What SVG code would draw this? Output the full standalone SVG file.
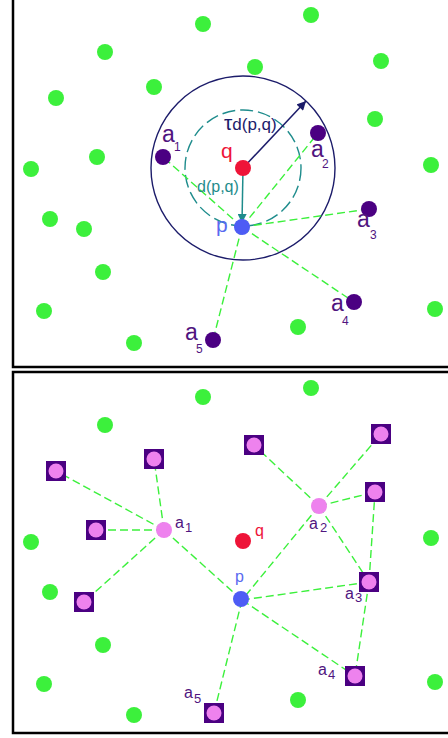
<svg xmlns="http://www.w3.org/2000/svg" width="448" height="738" viewBox="0 0 448 738">
<defs>
<style>
.frame{fill:none;stroke:#000;stroke-width:2.5}
.g{fill:#3CF03C}
.pu{fill:#4B0082}
.pk{fill:#EE82EE}
.q{fill:#EE1438}
.p{fill:#4D5CF5}
.ln{stroke:#3CF03C;stroke-width:1.4;stroke-dasharray:8 4;fill:none}
.t{font-family:"Liberation Sans",Arial,sans-serif}
.la{fill:#50157F}
</style>
<marker id="ahT" viewBox="0 0 10 10" refX="10" refY="5" markerWidth="10" markerHeight="9" markerUnits="userSpaceOnUse" orient="auto"><path d="M0,0 L10,5 L0,10 z" fill="#1E8C8C"/></marker>
<marker id="ahN" viewBox="0 0 10 10" refX="10" refY="5" markerWidth="10" markerHeight="9" markerUnits="userSpaceOnUse" orient="auto"><path d="M0,0 L10,5 L0,10 z" fill="#1C1C6A"/></marker>
</defs>
<rect width="448" height="738" fill="#fff"/>
<!-- frames -->
<path class="frame" d="M13,0 V367 H460"/>
<rect class="frame" x="13" y="372" width="460" height="361"/>

<!-- TOP PANEL -->
<g id="top-circles">
<circle cx="243" cy="168" r="92" fill="none" stroke="#1C1C6A" stroke-width="1.4"/>
<circle cx="243" cy="168" r="58" fill="none" stroke="#1E8C8C" stroke-width="1.4" stroke-dasharray="13 5"/>
</g>
<g id="top-connectors">
<line class="ln" x1="242" y1="227" x2="163" y2="157"/>
<line class="ln" x1="242" y1="227" x2="318" y2="133"/>
<line class="ln" x1="242" y1="227" x2="369" y2="209"/>
<line class="ln" x1="242" y1="227" x2="354" y2="302"/>
<line class="ln" x1="242" y1="227" x2="213" y2="340"/>
<line x1="243" y1="168" x2="242" y2="223" stroke="#1E8C8C" stroke-width="1.5" marker-end="url(#ahT)"/>
<line x1="243" y1="168" x2="306" y2="101" stroke="#1C1C6A" stroke-width="1.5" marker-end="url(#ahN)"/>
</g>
<g id="top-green">
<circle class="g" cx="203" cy="24" r="8"/><circle class="g" cx="311" cy="15" r="8"/>
<circle class="g" cx="105" cy="52" r="8"/><circle class="g" cx="255" cy="67" r="8"/>
<circle class="g" cx="381" cy="61" r="8"/><circle class="g" cx="56" cy="98" r="8"/>
<circle class="g" cx="154" cy="87" r="8"/><circle class="g" cx="375" cy="119" r="8"/>
<circle class="g" cx="97" cy="157" r="8"/><circle class="g" cx="31" cy="169" r="8"/>
<circle class="g" cx="431" cy="165" r="8"/><circle class="g" cx="50" cy="219" r="8"/>
<circle class="g" cx="84" cy="229" r="8"/><circle class="g" cx="103" cy="272" r="8"/>
<circle class="g" cx="44" cy="311" r="8"/><circle class="g" cx="435" cy="309" r="8"/>
<circle class="g" cx="298" cy="327" r="8"/><circle class="g" cx="134" cy="343" r="8"/>
</g>
<g id="top-q"><circle class="q" cx="243" cy="168" r="8"/><text class="t" x="221" y="158" font-size="21" fill="#EE1438">q</text></g>
<g id="top-p"><circle class="p" cx="242" cy="227" r="8"/><text class="t" x="216" y="232" font-size="21" fill="#5A6AF0">p</text></g>
<text class="t" x="224" y="130" font-size="17" fill="#1C1C6A"><tspan font-size="21">τ</tspan>d(p,q)</text>
<text class="t" x="197" y="192" font-size="16" fill="#1E8C8C">d(p,q)</text>
<g id="top-a1"><circle class="pu" cx="163" cy="157" r="8"/><text class="t la" x="162" y="142" font-size="23">a</text><text class="t la" x="174" y="151" font-size="12">1</text></g>
<g id="top-a2"><circle class="pu" cx="318" cy="133" r="8"/><text class="t la" x="311" y="157" font-size="23">a</text><text class="t la" x="322" y="168" font-size="12">2</text></g>
<g id="top-a3"><circle class="pu" cx="369" cy="209" r="8"/><text class="t la" x="357" y="227" font-size="23">a</text><text class="t la" x="370" y="239" font-size="12">3</text></g>
<g id="top-a4"><circle class="pu" cx="354" cy="302" r="8"/><text class="t la" x="331" y="311" font-size="23">a</text><text class="t la" x="342" y="325" font-size="12">4</text></g>
<g id="top-a5"><circle class="pu" cx="213" cy="340" r="8"/><text class="t la" x="185" y="340" font-size="23">a</text><text class="t la" x="196" y="353" font-size="12">5</text></g>

<!-- BOTTOM PANEL -->
<g id="bottom-connectors">
<line class="ln" x1="164" y1="530" x2="56" y2="471"/>
<line class="ln" x1="164" y1="530" x2="154" y2="459"/>
<line class="ln" x1="164" y1="530" x2="96" y2="530"/>
<line class="ln" x1="164" y1="530" x2="84" y2="602"/>
<line class="ln" x1="164" y1="530" x2="242" y2="600"/>
<line class="ln" x1="319" y1="506" x2="254" y2="445"/>
<line class="ln" x1="319" y1="506" x2="381" y2="434"/>
<line class="ln" x1="319" y1="506" x2="375" y2="492"/>
<line class="ln" x1="319" y1="506" x2="369" y2="582"/>
<line class="ln" x1="319" y1="506" x2="242" y2="600"/>
<line class="ln" x1="242" y1="600" x2="369" y2="582"/>
<line class="ln" x1="242" y1="600" x2="355" y2="676"/>
<line class="ln" x1="242" y1="600" x2="214" y2="713"/>
<line class="ln" x1="369" y1="582" x2="375" y2="492"/>
<line class="ln" x1="369" y1="582" x2="355" y2="676"/>
</g>
<g id="bottom-green">
<circle class="g" cx="203" cy="397" r="8"/><circle class="g" cx="311" cy="388" r="8"/>
<circle class="g" cx="105" cy="425" r="8"/><circle class="g" cx="31" cy="542" r="8"/>
<circle class="g" cx="431" cy="538" r="8"/><circle class="g" cx="50" cy="592" r="8"/>
<circle class="g" cx="103" cy="645" r="8"/><circle class="g" cx="44" cy="684" r="8"/>
<circle class="g" cx="435" cy="682" r="8"/><circle class="g" cx="298" cy="700" r="8"/>
<circle class="g" cx="134" cy="715" r="8"/>
</g>
<g id="bottom-sites">
<g id="s1"><rect class="pu" x="46" y="461" width="20" height="20"/><circle class="pk" cx="56" cy="471" r="7.5"/></g>
<g id="s2"><rect class="pu" x="144" y="449" width="20" height="20"/><circle class="pk" cx="154" cy="459" r="7.5"/></g>
<g id="s3"><rect class="pu" x="86" y="520" width="20" height="20"/><circle class="pk" cx="96" cy="530" r="7.5"/></g>
<g id="s4"><rect class="pu" x="74" y="592" width="20" height="20"/><circle class="pk" cx="84" cy="602" r="7.5"/></g>
<g id="s5"><rect class="pu" x="244" y="435" width="20" height="20"/><circle class="pk" cx="254" cy="445" r="7.5"/></g>
<g id="s6"><rect class="pu" x="371" y="424" width="20" height="20"/><circle class="pk" cx="381" cy="434" r="7.5"/></g>
<g id="s7"><rect class="pu" x="365" y="482" width="20" height="20"/><circle class="pk" cx="375" cy="492" r="7.5"/></g>
</g>
<g id="bottom-a1"><circle class="pk" cx="164" cy="530" r="8"/><text class="t la" x="175" y="528" font-size="16">a</text><text class="t la" x="185" y="532" font-size="13">1</text></g>
<g id="bottom-a2"><circle class="pk" cx="319" cy="506" r="8"/><text class="t la" x="309" y="529" font-size="16">a</text><text class="t la" x="320" y="532" font-size="13">2</text></g>
<g id="bottom-a3"><rect class="pu" x="359" y="572" width="20" height="20"/><circle class="pk" cx="369" cy="582" r="7.5"/><text class="t la" x="345" y="599" font-size="16">a</text><text class="t la" x="355" y="602" font-size="13">3</text></g>
<g id="bottom-a4"><rect class="pu" x="345" y="666" width="20" height="20"/><circle class="pk" cx="355" cy="676" r="7.5"/><text class="t la" x="318" y="675" font-size="16">a</text><text class="t la" x="328" y="679" font-size="13">4</text></g>
<g id="bottom-a5"><rect class="pu" x="204" y="703" width="20" height="20"/><circle class="pk" cx="214" cy="713" r="7.5"/><text class="t la" x="184" y="698" font-size="16">a</text><text class="t la" x="194" y="703" font-size="13">5</text></g>
<g id="bottom-q"><circle class="q" cx="243" cy="541" r="8"/><text class="t" x="255" y="536" font-size="16" fill="#EE1438">q</text></g>
<g id="bottom-p"><circle class="p" cx="241" cy="599" r="8"/><text class="t" x="235" y="582" font-size="16" fill="#5A6AF0">p</text></g>
</svg>
